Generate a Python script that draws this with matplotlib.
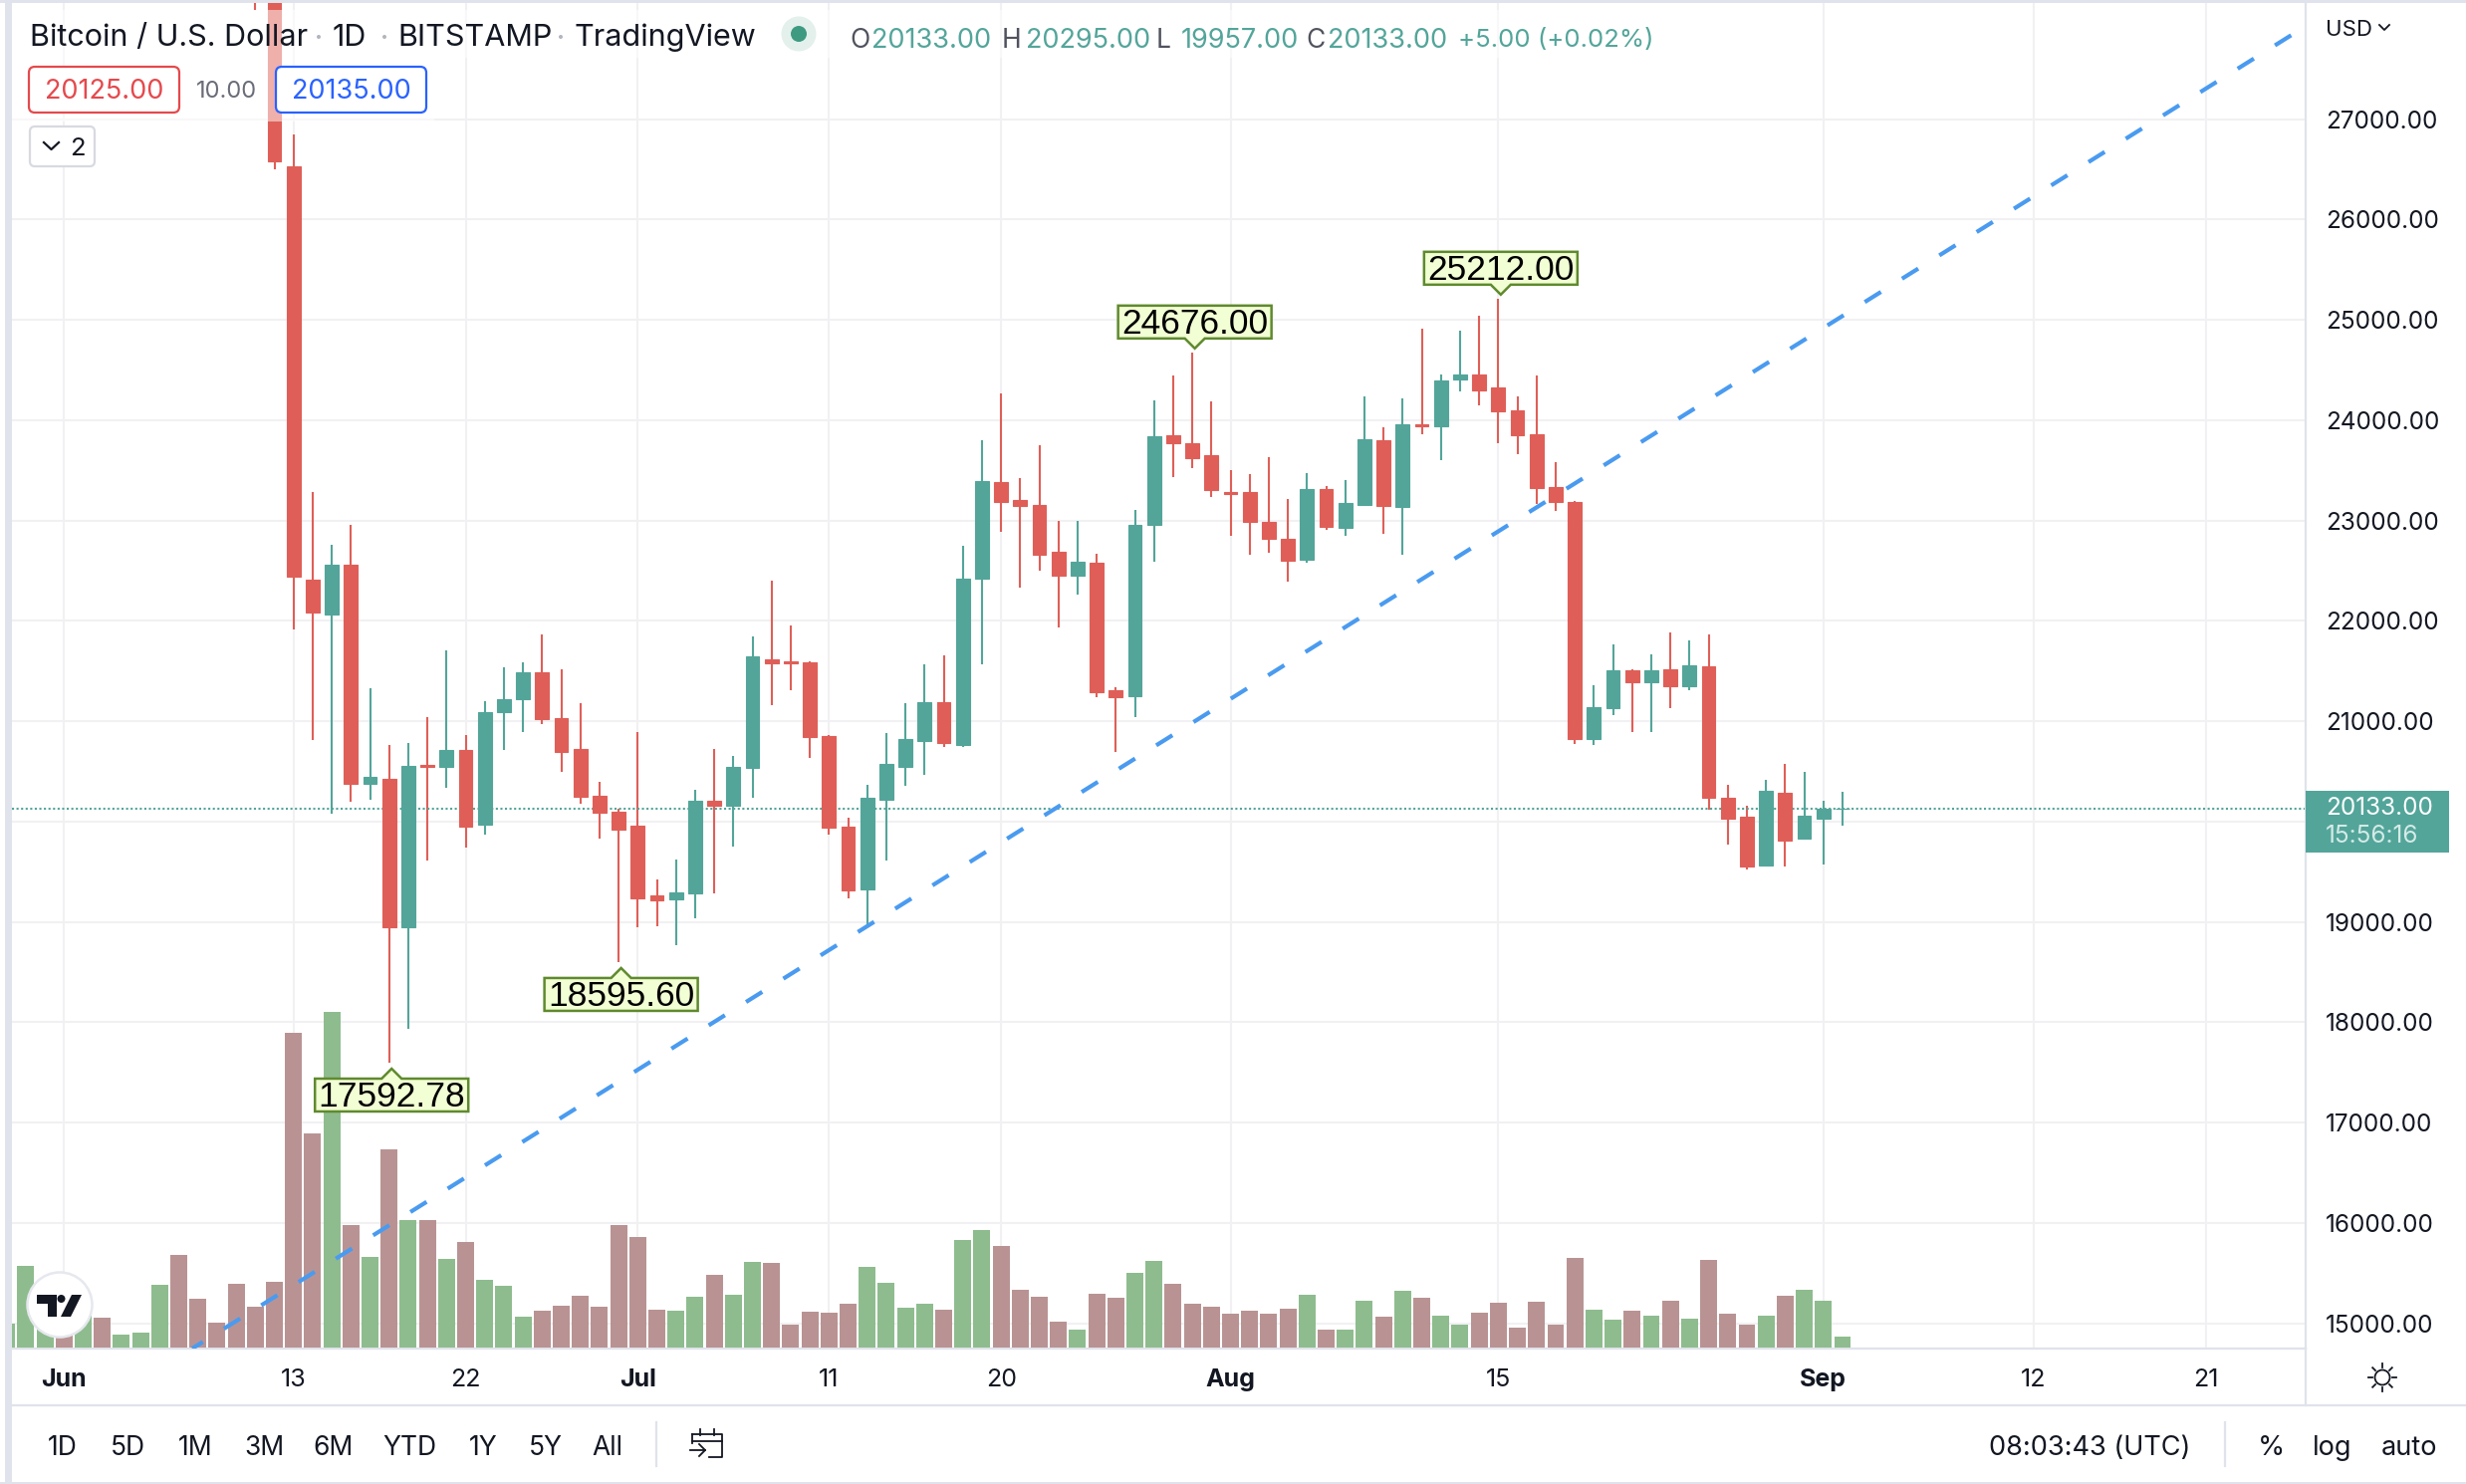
import matplotlib
matplotlib.use("Agg")
import matplotlib.pyplot as plt
from matplotlib.patches import Rectangle, Polygon, Circle, FancyBboxPatch

W, H = 2476, 1490
plt.rcParams['font.family'] = ['Inter', 'DejaVu Sans']

# candles, first one is 11 Jun (day 10 counted from 1 Jun), last is 2 Sep
first_day = 10
opens = [29000, 28400, 26535, 22411, 22067, 22560, 20379, 20426, 18946, 20565,
         20545, 20713, 19969, 21091, 21220, 21488, 21031, 20723, 20257, 20098,
         19959, 19264, 19224, 19284, 20207, 20158, 20535, 21617, 21597, 21587,
         20852, 19949, 19324, 20217, 20549, 20807, 21195, 20768, 22426, 23388,
         23210, 23160, 22694, 22455, 22584, 21314, 21254, 22962, 23855, 23776,
         23647, 23289, 23289, 22991, 22823, 22614, 23319, 22932, 23160, 23805,
         23140, 23960, 23944, 24411, 24451, 24322, 24103, 23865, 23339, 23190,
         20827, 21135, 21512, 21393, 21522, 21353, 21544, 20242, 20045, 19559,
         20292, 19829, 20034, 20125]
highs = [29500, 28550, 26843, 23286, 22758, 22954, 21329, 20763, 20783, 21041,
         21706, 20862, 21200, 21537, 21587, 21865, 21518, 21180, 20396, 20128,
         20892, 19423, 19622, 20316, 20723, 20654, 21845, 22401, 21954, 21597,
         20862, 20038, 20366, 20882, 21185, 21572, 21661, 22753, 23796, 24272,
         23428, 23756, 23001, 23001, 22674, 21344, 23111, 24193, 24441, 24676,
         24183, 23508, 23468, 23637, 23220, 23478, 23349, 23408, 24242, 23925,
         24222, 24917, 24451, 24897, 25046, 25212, 24242, 24441, 23587, 23200,
         21363, 21770, 21522, 21671, 21889, 21810, 21870, 20371, 20155, 20413,
         20572, 20493, 20204, 20295]
lows = [28084, 26502, 21915, 20816, 20081, 20200, 20220, 17592.78, 17938, 19615,
        20336, 19741, 19870, 20713, 20892, 20972, 20495, 20177, 19830, 18595.60,
        18946, 18956, 18768, 19036, 19284, 19751, 20237, 21160, 21309, 20634,
        19870, 19234, 18956, 19611, 20361, 20470, 20748, 20748, 21572, 22892,
        22336, 22505, 21939, 22267, 21244, 20698, 21046, 22594, 23438, 23518,
        23240, 22852, 22664, 22684, 22396, 22584, 22912, 22852, 23160, 22872,
        22664, 23865, 23607, 24292, 24153, 23776, 23666, 23170, 23100, 20778,
        20768, 21066, 20897, 20897, 21135, 21314, 20117, 19768, 19525, 19559,
        19548, 19817, 19575, 19957]
closes = [28400, 26578, 22441, 22087, 22560, 20379, 20445, 18946, 20555, 20541,
          20713, 19949, 21091, 21220, 21488, 21021, 20694, 20247, 20088, 19919,
          19234, 19215, 19294, 20207, 20158, 20545, 21647, 21577, 21577, 20843,
          19939, 19314, 20237, 20575, 20827, 21195, 20788, 22426, 23398, 23190,
          23150, 22664, 22455, 22594, 21294, 21244, 22962, 23845, 23776, 23627,
          23309, 23263, 22991, 22823, 22604, 23319, 22942, 23180, 23815, 23150,
          23964, 23938, 24401, 24451, 24302, 24093, 23855, 23329, 23190, 20827,
          21145, 21512, 21393, 21512, 21353, 21562, 20239, 20034, 19548, 20303,
          19806, 20057, 20125, 20133]

# volume in arbitrary units, first bar is 29 May
vol_first_day = -3
early_up = [True, True, True, False, True, False, True, True, True, False,
            False, False, False]
volumes = [71, 245, 130, 60, 95, 89, 38, 44, 188, 278, 146, 74, 191, 122, 197,
           947, 644, 1010, 368, 272, 596, 383, 383, 266, 317, 203, 185, 92, 110,
           125, 155, 122, 368, 332, 113, 110, 152, 218, 158, 257, 254, 68, 107,
           104, 131, 242, 194, 120, 132, 114, 324, 354, 306, 174, 153, 78, 54,
           162, 150, 225, 261, 192, 132, 123, 102, 111, 102, 117, 159, 54, 54,
           141, 93, 171, 150, 96, 69, 105, 135, 60, 138, 69, 270, 114, 84, 111,
           96, 141, 87, 264, 102, 69, 96, 156, 174, 141, 33]

x_ticks = [0, 12, 21, 30, 40, 49, 61, 75, 92, 103, 112]
x_labels = ['Jun', '13', '22', 'Jul', '11', '20', 'Aug', '15', 'Sep', '12', '21']
month_labels = ['Jun', 'Jul', 'Aug', 'Sep']
y_ticks = list(range(15000, 28000, 1000))

last_price = 20133.00
marked_days = [17, 29, 59, 75]
marked_values = [17592.78, 18595.60, 24676.00, 25212.00]
marked_above = [False, False, True, True]
trend_days = [6.7, 116.5]
trend_prices = [14749, 27841]

range_buttons = ['1D', '5D', '1M', '3M', '6M', 'YTD', '1Y', '5Y', 'All']
range_button_x = [63, 128, 196, 265, 334, 411, 485, 548, 610]

RED = '#df5f58'
TEAL = '#53a59a'
VOL_RED = '#b68d8d'
VOL_GREEN = '#88b988'
GRID = '#f1f1f3'
RULE = '#e0e3eb'
INK = '#131722'

fig = plt.figure(figsize=(W / 100, H / 100), dpi=100, facecolor='white')
L, R, T, B = 12, 2315, 3, 1354
rect = [L / W, 1 - B / H, (R - L) / W, (B - T) / H]

ax = fig.add_axes(rect)
ax.set_xlim(-2.724, 117.22)
ax.set_ylim(14749, 28158)
ax.set_xticks(x_ticks)
ax.set_xticklabels(x_labels)
ax.set_yticks(y_ticks)
# the 20000 label is covered by the last price box in the reference
ax.set_yticklabels(['' if v == 20000 else '%.2f' % v for v in y_ticks])
ax.yaxis.tick_right()
ax.tick_params(axis='y', length=0, pad=14.5, labelsize=17.5, labelcolor=INK)
ax.tick_params(axis='x', length=0, pad=14.5, labelsize=18, labelcolor=INK)
for lbl in ax.get_xticklabels():
    if lbl.get_text() in month_labels:
        lbl.set_fontweight('bold')
ax.grid(True, color=GRID, linewidth=1.5)
ax.set_axisbelow(True)
for side in ['top', 'left']:
    ax.spines[side].set_visible(False)
for side in ['right', 'bottom']:
    ax.spines[side].set_color(RULE)
    ax.spines[side].set_linewidth(1.6)

days = [first_day + i for i in range(len(opens))]
colors = [TEAL if c >= o else RED for o, c in zip(opens, closes)]
ax.vlines(days, lows, highs, colors=colors, linewidth=1.5, zorder=2)
bottoms = [min(o, c) for o, c in zip(opens, closes)]
sizes = [abs(c - o) for o, c in zip(opens, closes)]
ax.bar(days, sizes, bottom=bottoms, width=0.72, color=colors, edgecolor=colors,
       linewidth=0.8, zorder=3)
ax.axhline(last_price, color=TEAL, linewidth=1.5, linestyle=(0, (1, 1.2)), zorder=2.5)

# volume sits on its own scale, on top of the grid
vol_ax = fig.add_axes(rect, sharex=ax)
vol_ax.patch.set_visible(False)
vol_ax.set_ylim(-4, 4049)
vol_ax.axis('off')
vol_days = [vol_first_day + i for i in range(len(volumes))]
vol_up = early_up + [c >= o for o, c in zip(opens, closes)]
vol_colors = [VOL_GREEN if u else VOL_RED for u in vol_up]
vol_ax.bar(vol_days, volumes, width=0.88, color=vol_colors, alpha=0.95, zorder=2)
vol_ax.plot(trend_days, trend_prices, color='#4a9bf0', linewidth=3,
            linestyle=(1.56, (4.6, 6.0)), transform=ax.transData, zorder=4)
vol_ax.set_xlim(-2.724, 117.22)

# everything around the chart is laid out in pixels
ui = fig.add_axes([0, 0, 1, 1])
ui.set_xlim(0, W)
ui.set_ylim(H, 0)
ui.axis('off')
ui.set_zorder(5)

ui.add_patch(Rectangle((5, 0), 7, H, color=RULE, lw=0))
ui.add_patch(Rectangle((0, 0), W, 2.5, color=RULE, lw=0))
ui.add_patch(Rectangle((0, H - 2.5), W, 2.5, color=RULE, lw=0))
ui.plot([12, W], [1410.7, 1410.7], color=RULE, lw=1.6)
ui.plot([R, R], [1354, 1410.7], color=RULE, lw=1.6)

# the legend washes out whatever is behind it
ui.add_patch(Rectangle((12, 10), 1680, 48, facecolor='white', alpha=0.5, lw=0))
ui.add_patch(Rectangle((12, 58), 424, 64, facecolor='white', alpha=0.5, lw=0))

title_font = 22
title_y = 38
ui.text(30, title_y, 'Bitcoin / U.S. Dollar', fontsize=title_font, color=INK, va='center')
ui.text(334, title_y, '1D', fontsize=title_font, color=INK, va='center')
ui.text(399, title_y, 'BITSTAMP', fontsize=title_font, color=INK, va='center')
ui.text(576, title_y, 'TradingView', fontsize=title_font, color=INK, va='center')
for dot_x in [320, 386, 563]:
    ui.add_patch(Circle((dot_x, 37), 2, color='#b2b5be', lw=0))
ui.add_patch(Circle((802, 34), 17.5, color='#e3f0ec', lw=0))
ui.add_patch(Circle((802, 34), 8, color='#3f9a82', lw=0))

for letter, lx, val, vx in [('O', 853, '20133.00', 875), ('H', 1006, '20295.00', 1030),
                            ('L', 1161, '19957.00', 1186), ('C', 1311, '20133.00', 1333)]:
    ui.text(lx, 41, letter, fontsize=19, color='#50535e', va='center')
    ui.text(vx, 41, val, fontsize=19.5, color=TEAL, va='center')
ui.text(1464, 41, '+5.00 (+0.02%)', fontsize=18.5, color=TEAL, va='center')

for x0, x1, col, txt in [(29, 180, '#e5494d', '20125.00'), (277, 428, '#2962ff', '20135.00')]:
    ui.add_patch(FancyBboxPatch((x0 + 4, 71), x1 - x0 - 8, 38, boxstyle='round,pad=4,rounding_size=6',
                                facecolor='white', edgecolor=col, lw=1.6))
    ui.text((x0 + x1) / 2, 92, txt, fontsize=19.5, color=col, ha='center', va='center')
ui.text(228, 92, '10.00', fontsize=17, color='#6a6d78', ha='center', va='center')
ui.add_patch(FancyBboxPatch((34, 131), 57, 32, boxstyle='round,pad=4,rounding_size=5',
                            facecolor='white', edgecolor='#d8dae1', lw=1.6))
ui.plot([44, 51.5, 59], [143, 150, 143], color=INK, lw=1.6)
ui.text(78, 149, '2', fontsize=18.5, color=INK, ha='center', va='center')

# high and low tags on the candles
for day, value, above in zip(marked_days, marked_values, marked_above):
    px, py = ax.transData.transform((day, value))
    py = H - py
    px += 2.5
    tag_w, tag_h, tip = 154, 33, 10
    if above:
        tip_y = py - 4
        base = tip_y - tip
        top, bot = base - tag_h, base
        pts = [(px - tag_w / 2, top), (px + tag_w / 2, top), (px + tag_w / 2, bot),
               (px + 10, bot), (px, tip_y), (px - 10, bot), (px - tag_w / 2, bot)]
    else:
        tip_y = py + 5.5
        base = tip_y + tip
        top, bot = base, base + tag_h
        pts = [(px - tag_w / 2, top), (px - 10, top), (px, tip_y), (px + 10, top),
               (px + tag_w / 2, top), (px + tag_w / 2, bot), (px - tag_w / 2, bot)]
    ui.add_patch(Polygon(pts, closed=True, facecolor='#f2fed4', edgecolor='#5f8a2e', lw=1.8))
    ui.text(px, (top + bot) / 2 + 2.5, '%.2f' % value, fontsize=25.5, color='black',
            ha='center', va='center', family='Liberation Sans')

# last price box
ui.add_patch(Rectangle((R, 794), 144, 62, color=TEAL, lw=0))
ui.text(2335, 811, '%.2f' % last_price, fontsize=17.5, color='white', va='center')
ui.text(2335, 840, '15:56:16', fontsize=17.5, color='#d5ebe7', va='center')

ui.text(2335, 30, 'USD', fontsize=16, color=INK, va='center')
ui.plot([2389, 2394, 2399], [25, 30, 25], color=INK, lw=1.3)

# tradingview badge
ui.add_patch(Circle((60, 1310), 32.5, facecolor='white', edgecolor='#e6e8ee', lw=1.8))
ui.add_patch(Polygon([(37, 1300), (57, 1300), (57, 1322), (48, 1322), (48, 1309), (37, 1309)],
                     closed=True, color=INK, lw=0))
ui.add_patch(Circle((61.5, 1304), 4, color=INK, lw=0))
ui.add_patch(Polygon([(72, 1300), (82, 1300), (71, 1322), (61, 1322)], closed=True, color=INK, lw=0))

# bottom toolbar
for txt, bx in zip(range_buttons, range_button_x):
    ui.text(bx, 1454, txt, fontsize=19, color=INK, ha='center', va='center')
ui.plot([659, 659], [1428, 1472], color=RULE, lw=1.6)
ui.plot([695, 725, 725, 712], [1440, 1440, 1463, 1463], color=INK, lw=1.3)
ui.plot([695, 695], [1440, 1449], color=INK, lw=1.3)
ui.plot([695, 725], [1447, 1447], color=INK, lw=1.3)
ui.plot([703, 703], [1435, 1441], color=INK, lw=1.3)
ui.plot([717, 717], [1435, 1441], color=INK, lw=1.3)
ui.plot([693, 708], [1456, 1456], color=INK, lw=1.3)
ui.plot([702, 708, 702], [1450, 1456, 1462], color=INK, lw=1.3)

ui.text(2098, 1454, '08:03:43 (UTC)', fontsize=19.5, color=INK, ha='center', va='center')
ui.plot([2234, 2234], [1428, 1472], color=RULE, lw=1.6)
ui.text(2280, 1454, '%', fontsize=20, color=INK, ha='center', va='center')
ui.text(2342, 1454, 'log', fontsize=19.5, color=INK, ha='center', va='center')
ui.text(2419, 1454, 'auto', fontsize=19.5, color=INK, ha='center', va='center')

# settings sun
ui.add_patch(Circle((2392, 1383), 7.5, facecolor='white', edgecolor=INK, lw=1.3))
for dx, dy in [(0, -1), (0, 1), (-1, 0), (1, 0), (-.7, -.7), (.7, -.7), (-.7, .7), (.7, .7)]:
    ui.plot([2392 + dx * 10, 2392 + dx * 14], [1383 + dy * 10, 1383 + dy * 14], color=INK, lw=1.3)

fig.savefig('out.png', dpi=100)
